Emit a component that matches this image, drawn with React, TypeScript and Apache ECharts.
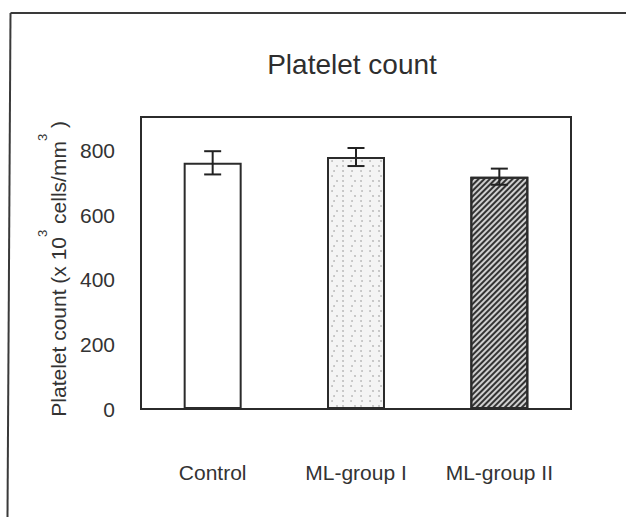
import React, { useEffect, useRef } from "react";
import * as echarts from "echarts";

// Group names along the x axis
const categories = ["Control", "ML-group I", "ML-group II"];
// Mean platelet count (x10^3 cells/mm^3)
const means = [763, 781, 720];
// Error bar half-length (SD)
const errors = [36, 28, 25];
// Y axis range and tick step
const yMin = 0;
const yMax = 905;
const yStep = 200;

const FONT = "'Liberation Sans', Arial, Helvetica, sans-serif";
const INK = "#2b2b2b";

export default function App() {
  const ref = useRef<HTMLDivElement>(null);

  useEffect(() => {
    document.body.style.margin = "0";
    if (!ref.current) return;
    const chart = echarts.init(ref.current, undefined, { renderer: "svg" });

    const barStyles = [
      { color: "#ffffff" },
      {
        color: "#f4f4f4",
        decal: {
          symbol: "circle",
          symbolSize: 0.8,
          color: "#b0b0b0",
          dashArrayX: [
            [2, 6, 2, 9],
            [2, 10, 2, 4],
            [2, 7],
          ],
          dashArrayY: [2, 3],
          rotation: 0,
        },
      },
      {
        color: "#cfcfcf",
        decal: {
          symbol: "rect",
          symbolSize: 1,
          color: "#333333",
          dashArrayX: [1, 0],
          dashArrayY: [2, 1.6],
          rotation: -Math.PI / 4,
        },
      },
    ];

    const barData = means.map((v, i) => ({
      value: v,
      itemStyle: {
        ...barStyles[i],
        borderColor: INK,
        borderWidth: 2,
      },
    }));

    const errData = means.map((v, i) => [i, v - errors[i], v + errors[i]]);

    chart.setOption({
      animation: false,
      backgroundColor: "#ffffff",
      grid: {
        left: 141,
        right: 55,
        top: 117,
        bottom: 108,
        show: true,
        borderColor: INK,
        borderWidth: 2,
        backgroundColor: "transparent",
      },
      xAxis: {
        type: "category",
        data: categories,
        axisLine: { show: false },
        axisTick: { show: false },
        splitLine: { show: false },
        axisLabel: {
          margin: 53,
          fontSize: 21,
          fontFamily: FONT,
          color: "#333333",
        },
      },
      yAxis: {
        type: "value",
        min: yMin,
        max: yMax,
        interval: yStep,
        axisLine: { show: false },
        axisTick: { show: false },
        splitLine: { show: false },
        axisLabel: {
          margin: 26,
          fontSize: 21,
          fontFamily: FONT,
          color: "#333333",
          showMaxLabel: false,
        },
      },
      series: [
        {
          type: "bar",
          data: barData,
          barWidth: 58,
          silent: true,
        },
        {
          type: "custom",
          data: errData,
          silent: true,
          z: 5,
          encode: { x: 0, y: [1, 2] },
          renderItem: (_params: any, api: any) => {
            const idx = api.value(0);
            const top = api.coord([idx, api.value(2)]);
            const bot = api.coord([idx, api.value(1)]);
            const half = 8.5;
            const style = { stroke: "#222222", lineWidth: 2 };
            return {
              type: "group",
              children: [
                { type: "line", shape: { x1: top[0], y1: top[1], x2: bot[0], y2: bot[1] }, style },
                { type: "line", shape: { x1: top[0] - half, y1: top[1], x2: top[0] + half, y2: top[1] }, style },
                { type: "line", shape: { x1: bot[0] - half, y1: bot[1], x2: bot[0] + half, y2: bot[1] }, style },
              ],
            };
          },
        },
      ],
      graphic: [
        // outer frame
        {
          type: "line",
          shape: { x1: 10.5, y1: 13, x2: 626, y2: 13 },
          style: { stroke: "#3a3a3a", lineWidth: 2 },
        },
        {
          type: "line",
          shape: { x1: 10.5, y1: 13, x2: 7.5, y2: 517 },
          style: { stroke: "#3a3a3a", lineWidth: 2 },
        },
        {
          type: "text",
          x: 352,
          y: 64,
          style: {
            text: "Platelet count",
            font: `28px ${FONT}`,
            fill: "#2e2e2e",
            align: "center",
            verticalAlign: "middle",
          },
        },
        {
          type: "text",
          x: 52,
          y: 269,
          rotation: Math.PI / 2,
          style: {
            text: "{g| }{m|Platelet count (x 10}{s|3}{m| cells/mm}{s|3}{m| )}",
            fill: "#333333",
            align: "center",
            verticalAlign: "middle",
            rich: {
              g: { fontSize: 1, lineHeight: 33, fontFamily: FONT },
              m: { fontSize: 21, fontFamily: FONT, verticalAlign: "bottom", fill: "#333333" },
              s: { fontSize: 13, fontFamily: FONT, verticalAlign: "top", fill: "#333333" },
            },
          },
        },
      ],
    });

    return () => chart.dispose();
  }, []);

  return <div ref={ref} style={{ width: 626, height: 517 }} />;
}
